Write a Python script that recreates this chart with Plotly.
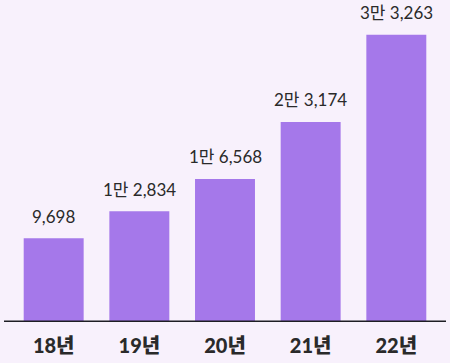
import plotly.graph_objects as go

categories = ["18년", "19년", "20년", "21년", "22년"]
values = [9698, 12834, 16568, 23174, 33263]


def fmt(v):
    if v >= 10000:
        return f"{v // 10000}만 {v % 10000:,}"
    return f"{v:,}"


labels = [fmt(v) for v in values]

BG = "#F8F1FC"
BAR = "#A578EA"
FONT = "Lato, 'Noto Sans CJK KR', sans-serif"

fig = go.Figure()
fig.add_trace(go.Bar(
    x=categories, y=values,
    marker=dict(color=BAR, line=dict(width=0)),
    hoverinfo="skip",
))

for c, v, t in zip(categories, values, labels):
    fig.add_annotation(
        x=c, y=v, text=t, showarrow=False,
        yanchor="middle", yshift=22,
        font=dict(family=FONT, size=17, color="#2a2a2a"),
    )

fig.update_layout(
    width=450, height=363,
    margin=dict(l=4, r=4, t=0, b=41, autoexpand=False),
    paper_bgcolor=BG, plot_bgcolor=BG,
    bargap=0.3,
    showlegend=False,
    hovermode=False,
    xaxis=dict(
        type="category",
        range=[-0.58, 4.58],
        showgrid=False, zeroline=False,
        showline=False,
        ticks="",
        tickfont=dict(family=FONT, size=20, color="#2a2a2a", weight=900),
        ticklabelstandoff=10,
    ),
    yaxis=dict(
        range=[0, 37300],
        visible=False,
        showgrid=False, zeroline=False,
    ),
    shapes=[dict(
        type="line", xref="paper", yref="y",
        x0=0, x1=1, y0=0, y1=0,
        line=dict(color="#1e1e24", width=3),
    )],
)

fig.write_html(
    "out.html",
    config={"displayModeBar": False, "staticPlot": True},
    post_script="document.body.style.margin='0';document.body.style.background='%s';" % BG,
)
